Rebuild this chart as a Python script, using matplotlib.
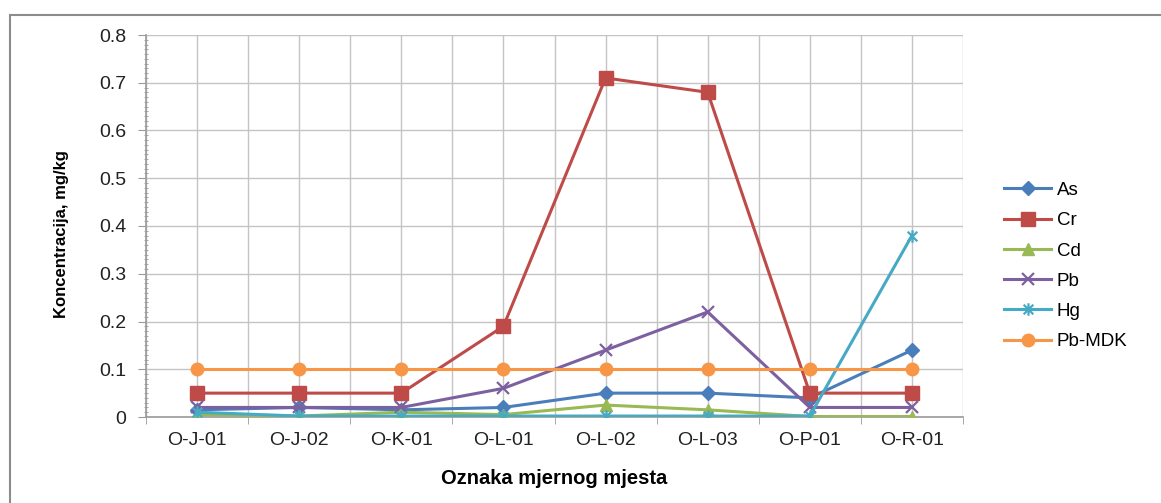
import numpy as np
import matplotlib
matplotlib.use("Agg")
from matplotlib import pyplot as plt
from matplotlib.path import Path
from matplotlib.patches import Rectangle
from matplotlib.ticker import MultipleLocator, FixedLocator, FuncFormatter

sites = ['O-J-01', 'O-J-02', 'O-K-01', 'O-L-01', 'O-L-02', 'O-L-03', 'O-P-01', 'O-R-01']

as_vals = [0.015, 0.02, 0.015, 0.02, 0.05, 0.05, 0.04, 0.14]
cr_vals = [0.05, 0.05, 0.05, 0.19, 0.71, 0.68, 0.05, 0.05]
cd_vals = [0.005, 0.002, 0.01, 0.005, 0.025, 0.015, 0.001, 0.001]
pb_vals = [0.02, 0.02, 0.02, 0.06, 0.14, 0.22, 0.02, 0.02]
hg_vals = [0.01, 0.002, 0.002, 0.002, 0.002, 0.002, 0.002, 0.38]
pb_mdk = [0.1, 0.1, 0.1, 0.1, 0.1, 0.1, 0.1, 0.1]

# Excel-style "star" marker: an x with a vertical bar through it
star = Path([(-1, -1), (1, 1), (-1, 1), (1, -1), (0, -1.3), (0, 1.3)],
            [Path.MOVETO, Path.LINETO, Path.MOVETO, Path.LINETO, Path.MOVETO, Path.LINETO])

series = [
    ('As', as_vals, '#4A7EBB', 'D', 7),
    ('Cr', cr_vals, '#BE4B48', 's', 10),
    ('Cd', cd_vals, '#98B954', '^', 8),
    ('Pb', pb_vals, '#7D60A0', 'x', 8),
    ('Hg', hg_vals, '#46AAC5', star, 9),
    ('Pb-MDK', pb_mdk, '#F79646', 'o', 9),
]

plt.rcParams['font.family'] = ['Liberation Sans', 'DejaVu Sans']

fig = plt.figure(figsize=(11.61, 5.03), dpi=100)
fig.patch.set_facecolor('white')
# chart border
fig.patches.append(Rectangle((10 / 1161, -0.1), 1.2, 1 - 15 / 503 + 0.1,
                             transform=fig.transFigure, fill=False,
                             edgecolor='#8c8c8c', linewidth=1.5))

ax = fig.add_axes([146 / 1161, 1 - 417 / 503, 817 / 1161, 382 / 503])
x = np.arange(len(sites))

for name, vals, color, marker, ms in series:
    thin = marker == 'x' or marker is star
    ax.plot(x, vals, color=color, linewidth=2.2, marker=marker, markersize=ms,
            markeredgewidth=1.6 if thin else 1,
            markeredgecolor=color, markerfacecolor=color, label=name, zorder=3)

ax.set_xlim(-0.5, len(sites) - 0.5)
ax.set_ylim(0, 0.8)
ax.yaxis.set_major_locator(MultipleLocator(0.1))
ax.yaxis.set_minor_locator(MultipleLocator(0.01))
ax.yaxis.set_major_formatter(FuncFormatter(lambda v, p: '0' if abs(v) < 1e-9 else '%.1f' % v))
ax.xaxis.set_major_locator(FixedLocator(x))
ax.xaxis.set_minor_locator(FixedLocator(np.arange(-0.5, len(sites), 1.0)))
ax.set_xticklabels(sites)

ax.grid(True, which='major', color='#c4c4c4', linewidth=1)
ax.grid(True, which='minor', axis='x', color='#c4c4c4', linewidth=1)
ax.set_axisbelow(True)

for side in ('top', 'right'):
    ax.spines[side].set_visible(False)
for side in ('left', 'bottom'):
    ax.spines[side].set_color('#9a9a9a')
    ax.spines[side].set_linewidth(1.2)

ax.tick_params(axis='y', which='major', length=6, color='#9a9a9a', pad=8,
               labelsize=14, labelcolor='#222222')
ax.tick_params(axis='y', which='minor', length=3, direction='inout', color='#9a9a9a')
ax.tick_params(axis='x', which='major', length=0, pad=11, labelsize=14,
               labelcolor='#222222')
ax.tick_params(axis='x', which='minor', length=5, color='#9a9a9a')

ax.set_ylabel('Koncentracija, mg/kg', fontsize=12, fontweight='bold', va='center')
ax.yaxis.set_label_coords(-0.103, 0.48)
ax.set_xlabel('Oznaka mjernog mjesta', fontsize=14.5, fontweight='bold', va='center')
ax.xaxis.set_label_coords(0.5, -0.16)

ax.legend(loc='center left', bbox_to_anchor=(1.03, 0.395), frameon=False,
          fontsize=13.5, handlelength=2.5, handletextpad=0.3, labelspacing=0.7)

fig.savefig('out.png', dpi=100)
